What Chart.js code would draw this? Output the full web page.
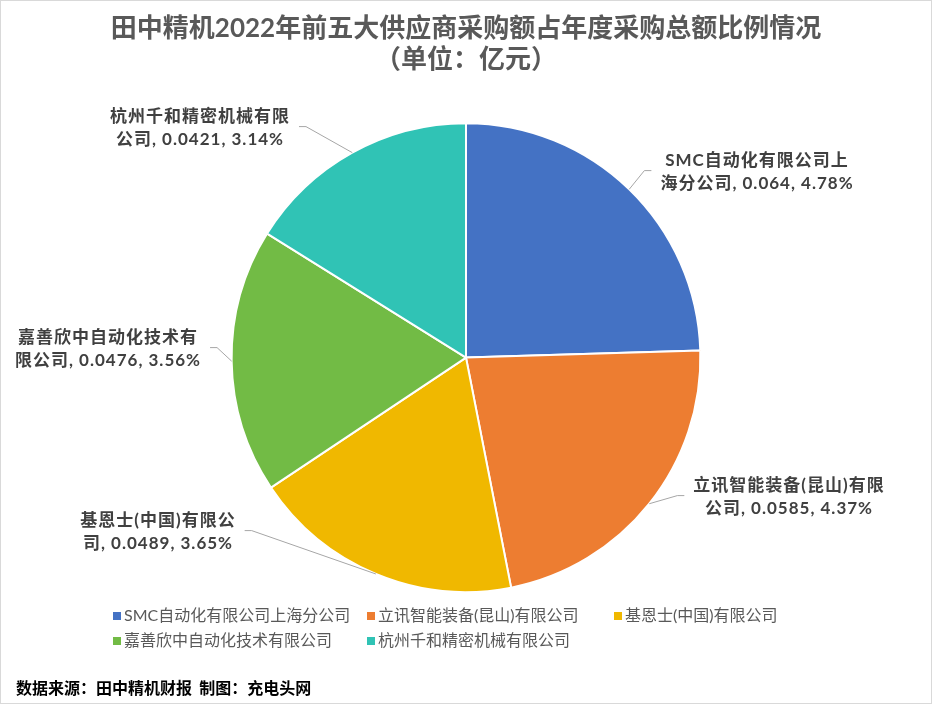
<!DOCTYPE html>
<html>
<head>
<meta charset="utf-8">
<script src="https://cdn.jsdelivr.net/npm/chart.js@4.4.1/dist/chart.umd.min.js"></script>
<style>
  body { margin: 0; background: #fff; }
  canvas { display: block; }
</style>
</head>
<body>
<canvas id="pieChart" width="932" height="704"></canvas>
<script>
// 数据
const suppliers = ['SMC自动化有限公司上海分公司', '立讯智能装备(昆山)有限公司', '基恩士(中国)有限公司', '嘉善欣中自动化技术有限公司', '杭州千和精密机械有限公司'];
const amounts = [0.064, 0.0585, 0.0489, 0.0476, 0.0421];   // 亿元
const shares = [4.78, 4.37, 3.65, 3.56, 3.14];             // 占年度采购总额 %
const labelBreaks = [11, 12, 10, 10, 10];                  // 标签第一行的字数
const colors = ['#4472C4', '#ED7D31', '#F0B800', '#72BB45', '#30C3B5'];

const titleLines = ['田中精机2022年前五大供应商采购额占年度采购总额比例情况', '（单位：亿元）'];
const sourceText = '数据来源：田中精机财报  制图：充电头网';

const cjk = '"Noto Sans CJK SC", sans-serif';

// 标签位置（相对饼图中心）
const labelOffsets = [[291, -186], [323, 139], [-308, 174], [-358, -9], [-266, -230]];

const labelPlugin = {
  id: 'pieLabels',
  afterDatasetsDraw(chart) {
    const ctx = chart.ctx;
    const meta = chart.getDatasetMeta(0);
    ctx.save();
    ctx.font = 'bold 17px Lato, ' + cjk;
    ctx.letterSpacing = '1px';
    ctx.fillStyle = '#404040';
    ctx.textAlign = 'center';
    ctx.textBaseline = 'middle';
    meta.data.forEach((arc, i) => {
      const p = arc.getProps(['x', 'y', 'startAngle', 'endAngle', 'outerRadius'], true);
      const mid = (p.startAngle + p.endAngle) / 2;
      const ex = p.x + p.outerRadius * Math.cos(mid);
      const ey = p.y + p.outerRadius * Math.sin(mid);

      const name = chart.data.labels[i];
      const line1 = name.slice(0, labelBreaks[i]);
      const line2 = name.slice(labelBreaks[i]) + ', ' + amounts[i] + ', ' + shares[i].toFixed(2) + '%';
      const cx = p.x + labelOffsets[i][0];
      const cy = p.y + labelOffsets[i][1];
      const w = Math.max(ctx.measureText(line1).width, ctx.measureText(line2).width);

      // 引导线
      const right = cx > p.x;
      const endX = right ? cx - w / 2 - 9 : cx + w / 2 + 9;
      const elbowX = right ? endX - 7 : endX + 7;
      const ly = cy - 1;
      ctx.strokeStyle = '#A6A6A6';
      ctx.lineWidth = 1;
      ctx.beginPath();
      ctx.moveTo(ex, ey);
      ctx.lineTo(elbowX, ly);
      ctx.lineTo(endX, ly);
      ctx.stroke();

      ctx.fillText(line1, cx, cy - 11);
      ctx.fillText(line2, cx, cy + 12);
    });
    ctx.restore();
  },
  afterDraw(chart) {
    const ctx = chart.ctx;
    ctx.save();
    // 图例
    const colX = [113, 367, 614];
    const rowY = [616, 641];
    ctx.font = '16px Lato, ' + cjk;
    ctx.textBaseline = 'middle';
    ctx.textAlign = 'left';
    chart.data.labels.forEach((lab, i) => {
      const x = colX[i % 3];
      const y = rowY[Math.floor(i / 3)];
      ctx.fillStyle = chart.data.datasets[0].backgroundColor[i];
      ctx.fillRect(x, y - 4, 8, 8);
      ctx.fillStyle = '#595959';
      ctx.fillText(lab, x + 11, y);
    });
    // 数据来源
    ctx.font = 'bold 16px ' + cjk;
    ctx.fillStyle = '#000';
    ctx.fillText(sourceText, 16, 688);
    // 外框
    ctx.strokeStyle = '#D9D9D9';
    ctx.lineWidth = 1;
    ctx.strokeRect(0.5, 0.5, chart.width - 1, chart.height - 1);
    ctx.restore();
  }
};

const ctx = document.getElementById('pieChart').getContext('2d');
var chart = new Chart(ctx, {
  type: 'pie',
  data: {
    labels: suppliers,
    datasets: [{
      data: amounts,
      backgroundColor: colors,
      borderColor: '#FFFFFF',
      borderWidth: 2
    }]
  },
  options: {
    responsive: false,
    animation: false,
    layout: { padding: { top: 0, bottom: 111, left: 0, right: 0 } },
    plugins: {
      legend: { display: false },
      tooltip: { enabled: false },
      title: {
        display: true,
        text: titleLines,
        color: '#595959',
        font: { family: 'Lato, ' + cjk, size: 26, weight: 'bold' },
        padding: { top: 12.6, bottom: 47.2 }
      }
    }
  },
  plugins: [labelPlugin]
});
</script>
</body>
</html>
